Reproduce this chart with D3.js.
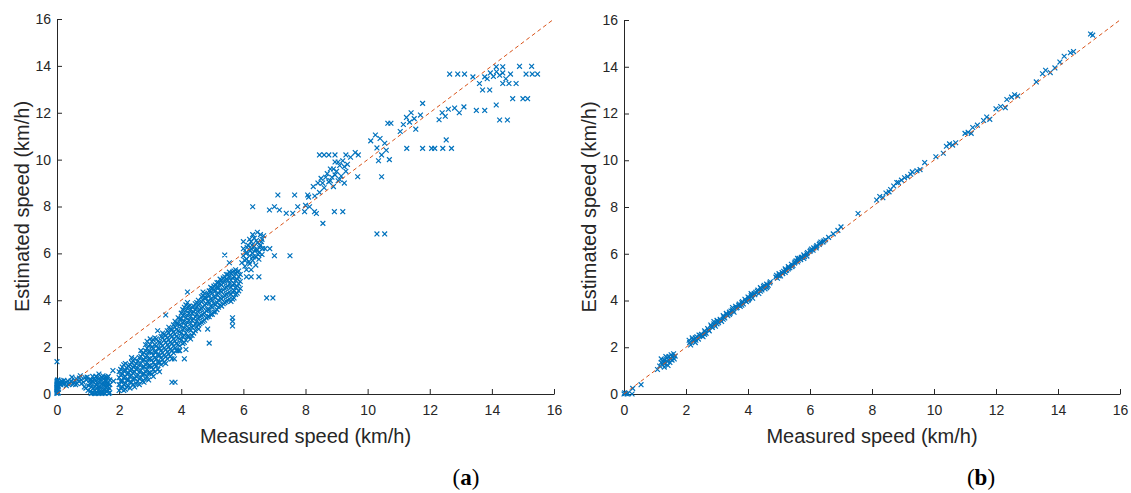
<!DOCTYPE html>
<html>
<head>
<meta charset="utf-8">
<script src="https://cdn.jsdelivr.net/npm/d3@7"></script>
<style>
  body { margin: 0; background: #fff; }
  svg { display: block; }
</style>
</head>
<body>
<script>
// tick values shared by both panels
const axisTicks = [0, 2, 4, 6, 8, 10, 12, 14, 16];
const refLine = [0, 16];

// panel (a): scattered points near origin and the 1-1.7 cluster
const pointsA_low = [
  [0,0.02],[0,0.1],[0,0.18],[0,0.27],[0,0.35],[0,0.45],[0,0.55],[0.03,0.6],[0.05,0.05],[0.05,0.3],
  [0,0.05],[0,0.15],[0,0.22],[0,0.3],[0,0.4],[0,0.5],[0.02,0.58],[0.04,0.2],[0.03,0.45],
  [0.08,0.5],[0,1.38],[0.12,0.4],[0.18,0.5],[0.25,0.45],[0.3,0.35],[0.35,0.55],[0.42,0.45],[0.48,0.72],
  [0.1,0.45],[0.15,0.55],[0.2,0.42],[0.22,0.58],[0.3,0.5],[0.38,0.4],[0.45,0.55],[0.52,0.42],
  [0.58,0.58],[0.65,0.45],[0.72,0.68],[0.78,0.6],[0.85,0.5],[0.9,0.7],
  [0.55,0.5],[0.6,0.4],[0.62,0.65],[0.7,0.55],[0.75,0.78],[0.8,0.45],[0.88,0.3],[0.93,0.25],[0.95,0.6],
  [0.97,0.72],[1.02,0.35],[1.05,0.6],[1.08,0.12],[1.12,0.45],[1.15,0.75],[1.18,0.25],[1.2,0.02],
  [1.24,0.55],[1.27,0.38],[1.3,0.7],[1.32,0.15],[1.35,0.02],[1.38,0.48],[1.4,0.3],[1.42,0.62],
  [1.45,0.08],[1.48,0.78],[1.5,0.2],[1.52,0.42],[1.55,0.02],[1.56,0.58],[1.58,0.3],[1.6,0.12],
  [1.62,0.7],[1.64,0.45],[1.66,0.02],[1.68,0.25],[1.7,0.6],[1.8,1.0],[1.82,0.55],[1.25,0.02],
  [1.45,0.02],[1.35,0.85],[1.1,0.02],[1.5,0.65],[1.28,0.25],[1.62,0.35],
  [1.0,0.15],[1.05,0.45],[1.1,0.3],[1.15,0.55],[1.2,0.15],[1.2,0.65],[1.25,0.4],[1.3,0.05],[1.3,0.5],
  [1.35,0.3],[1.35,0.65],[1.4,0.15],[1.45,0.45],[1.45,0.7],[1.5,0.35],[1.5,0.05],[1.55,0.55],[1.55,0.2],
  [1.6,0.42],[1.6,0.6],[1.65,0.15],[1.65,0.75],[1.7,0.4],[1.7,0.05],[1.4,0.05],[1.15,0.05],[1.1,0.6],
  [1.25,0.75],[1.57,0.72]
];

// panel (a): main band, measured speed -> estimated speeds
const bandA = [
  [2.0,[0.15,0.4,0.7,0.95]], [2.1,[0.3,0.55,0.85,1.15]], [2.2,[0.2,0.45,0.75,1.0,1.3]],
  [2.3,[0.35,0.6,0.9,1.2]], [2.4,[0.5,0.8,1.05,1.35,1.55]], [2.5,[0.3,0.65,0.95,1.2,1.5]],
  [2.6,[0.55,0.8,1.1,1.4]], [2.7,[0.7,1.0,1.3,1.6,1.85]], [2.8,[0.5,0.85,1.15,1.45,1.75]],
  [2.9,[0.75,1.05,1.35,1.65,1.95,2.25]], [3.0,[0.9,1.2,1.5,1.8,2.1,2.35]],
  [3.1,[0.75,1.05,1.35,1.65,1.95,2.3]], [3.2,[1.2,1.5,1.8,2.05,2.35]],
  [3.3,[0.95,1.35,1.65,1.95,2.2]], [3.4,[1.45,1.75,2.05,2.4,2.6]], [3.5,[1.3,1.6,1.9,2.2,2.5]],
  [3.6,[1.7,2.0,2.3,2.6,2.85]], [3.7,[1.5,1.85,2.15,2.45,2.75]], [3.8,[1.95,2.25,2.55,2.85,3.1]],
  [3.9,[1.85,2.1,2.4,2.7,3.0,3.25]], [4.0,[2.3,2.6,2.9,3.2,3.45]], [4.1,[2.2,2.5,2.8,3.1,3.4,3.7]],
  [4.2,[2.45,2.75,3.05,3.35,3.65,3.9]], [4.3,[2.35,2.7,3.0,3.3,3.6]], [4.4,[2.6,2.9,3.2,3.5,3.75]],
  [4.5,[2.85,3.1,3.4,3.7,3.9]], [4.6,[3.0,3.3,3.6,3.85]], [4.7,[3.1,3.4,3.7,4.0,4.2]],
  [4.8,[3.25,3.55,3.85,4.1]], [4.9,[3.3,3.6,3.9,4.2,4.4]], [5.0,[3.4,3.7,4.0,4.3,4.5]],
  [5.1,[3.5,3.8,4.1,4.4,4.65]], [5.2,[3.7,4.0,4.3,4.55,4.75]], [5.3,[3.75,4.05,4.35,4.65,4.85]],
  [5.4,[3.9,4.2,4.5,4.8,5.0]], [5.5,[4.0,4.3,4.6,4.85,5.1]], [5.6,[3.95,4.25,4.55,4.85,5.15]],
  [5.7,[4.1,4.4,4.7,5.0,5.25]], [5.8,[4.3,4.6,4.9,5.2]], [5.9,[4.5,4.8,5.1]]
];

// panel (a): second pass through the band, between the columns above
const bandA2 = [
  [2.05,[0.25,0.55,0.8,1.05]], [2.15,[0.15,0.4,0.7,1.0,1.25]], [2.25,[0.3,0.6,0.85,1.1]],
  [2.35,[0.25,0.5,0.75,1.0,1.25]], [2.45,[0.4,0.65,0.9,1.15,1.4]], [2.55,[0.45,0.75,1.05,1.3]],
  [2.65,[0.4,0.65,0.95,1.25,1.55]], [2.75,[0.55,0.85,1.15,1.45,1.7]], [2.85,[0.65,0.95,1.25,1.55,1.85,2.1]],
  [2.95,[0.6,0.9,1.2,1.5,1.8,2.05]], [3.05,[0.85,1.15,1.45,1.75,2.0,2.25]], [3.15,[0.95,1.25,1.55,1.8,2.1,2.4]],
  [3.25,[1.05,1.35,1.65,1.95,2.25]], [3.35,[1.25,1.55,1.85,2.15,2.45]], [3.45,[1.35,1.65,1.95,2.3,2.55]],
  [3.55,[1.5,1.8,2.1,2.4,2.7]], [3.65,[1.6,1.9,2.2,2.5,2.75]], [3.75,[1.75,2.05,2.35,2.65,2.95]],
  [3.85,[1.85,2.15,2.45,2.75,3.0]], [3.95,[2.05,2.35,2.65,2.95,3.2]], [4.05,[2.15,2.45,2.75,3.05,3.35,3.6]],
  [4.15,[2.3,2.6,2.95,3.25,3.55,3.8]], [4.25,[2.45,2.8,3.15,3.45,3.75]], [4.35,[2.5,2.85,3.15,3.45,3.7]],
  [4.45,[2.7,3.0,3.3,3.6,3.85]], [4.55,[2.95,3.25,3.55,3.8,4.0]], [4.65,[3.05,3.35,3.65,3.95,4.15]],
  [4.75,[3.15,3.45,3.8,4.1,4.3]], [4.85,[3.3,3.6,3.95,4.25]], [4.95,[3.4,3.75,4.05,4.35,4.55]],
  [5.05,[3.5,3.85,4.15,4.45,4.6]], [5.15,[3.6,3.9,4.25,4.55,4.75]], [5.25,[3.8,4.1,4.4,4.7,4.9]],
  [5.35,[3.85,4.15,4.45,4.75,4.95]], [5.45,[3.95,4.25,4.55,4.9,5.1]], [5.55,[4.05,4.35,4.7,5.0,5.2]],
  [5.65,[4.05,4.35,4.65,4.95,5.2]], [5.75,[4.25,4.55,4.85,5.15,5.3]], [5.85,[4.4,4.7,5.0,5.25]]
];

// panel (a): outliers and upper clusters
const pointsA_high = [
  [3.24,2.7],[3.5,3.37],[4.2,4.35],[4.7,4.35],[3.7,0.5],[3.8,0.5],[4.56,2.77],[4.85,2.77],[4.9,2.17],
  [5.65,2.9],[5.65,3.1],[5.65,3.25],[3.78,1.5],[3.95,1.85],[4.15,1.9],[4.1,1.5],
  [5.95,5.6],[6.0,5.9],[6.0,6.2],[6.05,5.45],[6.1,5.75],[6.1,6.05],[6.15,6.35],[6.2,5.55],[6.2,5.9],
  [6.25,6.2],[6.25,6.5],[6.3,5.7],[6.3,6.0],[6.35,6.3],[6.35,6.65],[6.4,5.5],[6.4,5.85],[6.45,6.15],
  [6.45,6.45],[6.5,5.75],[6.5,6.05],[6.55,6.35],[6.55,6.8],[6.6,5.95],[6.6,6.6],[6.7,6.2],[6.85,6.2],
  [6.05,5.7],[6.08,6.0],[6.12,6.25],[6.18,5.65],[6.22,6.1],[6.28,6.35],[6.32,5.85],[6.38,6.15],
  [6.42,6.55],[6.48,5.95],[6.52,6.25],[6.58,6.5],[6.62,6.2],[6.65,6.75],[6.0,6.5],[6.2,6.6],[6.45,6.9],
  [6.3,6.8],
  [6.1,5.3],[6.25,5.3],[6.1,5.0],[6.25,5.0],[6.5,5.0],[5.4,5.93],[5.55,5.6],[7.0,5.9],[7.5,5.9],
  [6.75,4.1],[6.95,4.1],
  [6.3,7.99],[6.84,7.85],[7.0,7.99],[7.16,7.85],[7.11,8.49],[7.38,7.71],[7.59,7.71],[7.65,8.49],
  [7.75,7.99],[7.97,7.78],[8.07,8.49],[8.13,7.99],[8.29,7.78],[8.56,7.28],[8.93,7.78],[9.2,7.78],
  [8.35,7.7],[8.0,8.05],[8.25,8.85],[8.4,9.0],[8.3,8.45],[8.1,8.4],[8.45,8.6],
  [8.5,9.2],[8.6,8.8],[8.7,9.4],[8.75,9.05],[8.85,9.25],[8.9,8.85],[9.0,9.5],[9.05,9.1],[9.15,9.3],
  [9.25,9.0],[9.3,9.5],[8.8,9.6],[9.1,9.75],[9.2,9.95],[9.35,9.8],[8.95,9.9],[9.05,9.9],
  [8.55,9.0],[8.65,9.25],[8.8,9.1],[8.95,9.35],[9.1,9.15],[8.9,9.6],[9.25,9.7],
  [8.45,10.2],[8.6,10.2],[8.75,10.2],[8.95,10.2],[9.3,10.2],[9.45,10.1],[9.6,10.3],[9.7,10.2],
  [9.68,9.27],[10.45,9.27],[10.3,6.83],[10.55,6.83],
  [10.1,10.8],[10.25,11.05],[10.4,10.9],[10.3,10.5],[10.45,10.2],[10.6,10.4],[10.7,10.0],[10.35,9.95],
  [10.65,11.55],[10.75,11.55],[10.55,10.7],
  [11.05,11.2],[11.15,11.5],[11.25,11.8],[11.35,11.6],[11.4,12.0],[11.5,11.75],[11.55,11.3],[11.7,11.9],
  [11.77,12.4],[11.26,10.48],[11.77,10.48],[12.06,10.48],[12.16,10.48],[12.42,10.48],[12.7,10.48],
  [12.53,10.84],[12.3,11.7],[12.4,12.0],[12.5,11.85],[12.6,12.15],[12.8,12.2],[12.95,12.0],[13.1,12.25],
  [13.5,12.1],[13.77,12.1],[14.14,12.33],[14.25,11.69],[14.5,11.69],[14.67,12.6],[15.0,12.6],[15.15,12.6],
  [12.64,13.65],[12.9,13.65],[13.12,13.65],[13.39,13.53],[13.6,13.25],[13.77,13.53],[13.7,12.97],[13.93,12.97],
  [13.85,13.45],[13.95,13.7],[14.05,13.55],[14.15,13.75],[14.25,13.6],[14.35,13.7],[14.45,13.45],[14.6,13.65],
  [14.14,13.96],[14.35,13.96],[14.89,13.98],[15.28,13.98],[15.1,13.65],[15.3,13.65],[15.47,13.65],
  [14.35,13.25],[14.55,13.25],[14.78,13.25]
];

// panel (b): estimates hug the diagonal
const pointsB = [
  [0,0],[0.05,0.02],[0.1,0],[0.02,0.05],[0.12,0.03],[0.26,0],[0.28,0.24],[0.55,0.4],
  [1.08,1.05],[1.15,1.2],[1.2,1.35],[1.25,1.25],[1.3,1.45],[1.32,1.3],[1.38,1.55],[1.4,1.4],[1.45,1.6],
  [1.48,1.35],[1.5,1.5],[1.52,1.68],[1.55,1.45],[1.58,1.58],[1.6,1.72],[1.62,1.5],[1.65,1.62],[1.3,1.15],
  [1.2,1.5],[1.42,1.22],[1.35,1.6],[1.45,1.45],[1.28,1.35],[1.55,1.6],
  [2.1,2.3],[2.15,2.1],[2.2,2.4],[2.25,2.3],[2.3,2.2],[2.35,2.45],[2.4,2.35],[2.45,2.5],[2.5,2.55],
  [2.55,2.45],[2.6,2.7],[2.65,2.6],[2.7,2.8],[2.75,2.7],[2.8,2.95],[2.85,2.85],[2.9,3.0],[2.95,2.9],
  [3.0,3.15],[3.05,3.05],[3.1,3.2],[3.15,3.1],[3.2,3.35],[3.25,3.25],[3.3,3.45],[3.35,3.35],[3.4,3.5],
  [3.45,3.55],[3.5,3.6],[3.55,3.5],[3.6,3.75],[3.65,3.7],[3.7,3.8],[3.75,3.75],[3.8,3.9],[3.85,3.85],
  [3.9,4.05],[3.95,3.95],[4.0,4.15],[4.05,4.1],[4.1,4.2],[4.15,4.1],[4.2,4.3],[4.25,4.35],[4.3,4.4],
  [4.35,4.3],[4.4,4.55],[4.45,4.45],[4.5,4.6],[4.55,4.5],[4.6,4.7],[4.65,4.65],[4.7,4.75],[4.9,5.0],
  [4.95,4.95],[5.0,5.15],[5.05,5.05],[5.1,5.2],[5.15,5.25],[5.2,5.35],[5.25,5.3],[5.3,5.45],[5.35,5.4],
  [5.4,5.55],[5.45,5.5],[5.5,5.6],[5.55,5.7],[5.6,5.65],[5.65,5.8],[5.7,5.75],[5.75,5.85],[5.8,5.95],
  [5.9,6.0],[6.0,6.1],[6.05,6.2],[6.1,6.15],[6.2,6.3],[6.3,6.4],[6.35,6.5],[6.45,6.55],[6.5,6.6],
  [2.3,2.4],[2.6,2.55],[2.9,3.1],[3.2,3.2],[3.5,3.7],[3.8,3.8],[4.1,4.3],[4.4,4.4],[5.0,5.05],[5.3,5.35],
  [5.6,5.8],[5.9,5.9],[6.2,6.25],
  [2.12,2.2],[2.22,2.32],[2.32,2.3],[2.42,2.52],[2.52,2.48],[2.62,2.62],[2.72,2.75],[2.82,2.88],
  [2.92,2.95],[3.02,3.1],[3.12,3.15],[3.22,3.3],[3.32,3.4],[3.42,3.45],[3.52,3.55],[3.62,3.68],
  [3.72,3.85],[3.82,3.95],[3.92,3.98],[4.02,4.05],[4.12,4.25],[4.22,4.25],[4.32,4.45],[4.42,4.5],
  [4.52,4.65],[4.62,4.6],[4.72,4.8],[4.92,5.08],[5.02,5.1],[5.12,5.15],[5.22,5.28],[5.32,5.4],
  [5.42,5.45],[5.52,5.65],[5.62,5.72],[5.72,5.85],[5.82,5.88],[5.92,6.05],[6.02,6.15],[6.12,6.25],
  [6.22,6.35],[6.32,6.45],[6.42,6.5],[3.0,3.0],[3.4,3.4],[4.0,4.0],[4.6,4.55],[5.2,5.2],[5.8,5.8],
  [6.6,6.7],[6.75,6.85],[6.9,7.0],[7.0,7.15],[7.55,7.72],
  [8.15,8.3],[8.25,8.45],[8.35,8.4],[8.45,8.6],[8.55,8.65],[8.6,8.75],[8.7,8.9],[8.8,9.05],[8.85,9.05],
  [8.95,9.15],[9.05,9.25],[9.15,9.3],[9.25,9.4],[9.3,9.5],[9.45,9.55],[9.55,9.6],[9.7,9.9],[10.06,10.15],
  [10.3,10.3],[10.4,10.6],[10.5,10.7],[10.6,10.65],[10.7,10.75],[11.0,11.15],[11.1,11.2],[11.2,11.15],
  [11.25,11.4],[11.4,11.5],[11.6,11.7],[11.7,11.85],[11.8,11.75],[12.0,12.2],[12.15,12.3],[12.3,12.25],
  [12.35,12.6],[12.5,12.7],[12.6,12.8],[12.7,12.75],[13.3,13.35],[13.5,13.7],[13.6,13.85],[13.75,13.75],
  [13.9,13.95],[14.06,14.2],[14.2,14.45],[14.4,14.6],[14.5,14.65],[15.05,15.4],[15.12,15.35]
];

const blue = '#0072BD';
const orange = '#D95319';
const ink = '#262626';

const svg = d3.select('body').append('svg')
  .attr('width', 1131)
  .attr('height', 493);

function flatten(band) {
  const out = [];
  band.forEach(([mx, ys]) => ys.forEach((ey) => out.push([mx, ey])));
  return out;
}

function drawPanel(points, box, tag) {
  const x = d3.scaleLinear().domain([0, 16]).range([box.x0, box.x1]);
  const y = d3.scaleLinear().domain([0, 16]).range([box.y0, box.y1]);
  const g = svg.append('g');

  const xAxis = g.append('g')
    .attr('transform', `translate(0,${box.y0})`)
    .call(d3.axisBottom(x).tickValues(axisTicks).tickSizeInner(-5).tickSizeOuter(0).tickPadding(11));
  const yAxis = g.append('g')
    .attr('transform', `translate(${box.x0},0)`)
    .call(d3.axisLeft(y).tickValues(axisTicks).tickSizeInner(-5).tickSizeOuter(0).tickPadding(6));

  [xAxis, yAxis].forEach((a) => {
    a.selectAll('path, line').attr('stroke', ink);
    a.selectAll('text')
      .attr('fill', ink)
      .style('font', "14px 'Liberation Sans', Arial, sans-serif");
  });

  g.selectAll('path.mark')
    .data(points)
    .join('path')
    .attr('class', 'mark')
    .attr('transform', (d) => `translate(${x(d[0])},${y(d[1])})`)
    .attr('d', 'M-2.4,-2.4L2.4,2.4M-2.4,2.4L2.4,-2.4')
    .attr('stroke', blue)
    .attr('stroke-width', 1.2)
    .attr('fill', 'none');

  g.append('line')
    .attr('x1', x(refLine[0])).attr('y1', y(refLine[0]))
    .attr('x2', x(refLine[1])).attr('y2', y(refLine[1]))
    .attr('stroke', orange)
    .attr('stroke-width', 1)
    .attr('stroke-dasharray', '4,3');

  g.append('text')
    .attr('x', (box.x0 + box.x1) / 2)
    .attr('y', 443)
    .attr('text-anchor', 'middle')
    .attr('fill', ink)
    .style('font', "20px 'Liberation Sans', Arial, sans-serif")
    .text('Measured speed (km/h)');

  g.append('text')
    .attr('transform', `translate(${box.labelX},${(box.y0 + box.y1) / 2}) rotate(-90)`)
    .attr('text-anchor', 'middle')
    .attr('fill', ink)
    .style('font', "20px 'Liberation Sans', Arial, sans-serif")
    .text('Estimated speed (km/h)');

  const cap = g.append('text')
    .attr('x', box.capX)
    .attr('y', 485)
    .attr('text-anchor', 'middle')
    .attr('fill', '#000')
    .style('font', "23px 'Liberation Serif', 'DejaVu Serif', serif");
  cap.append('tspan').text('(');
  cap.append('tspan').style('font-weight', 'bold').text(tag);
  cap.append('tspan').text(')');
}

drawPanel(pointsA_low.concat(flatten(bandA), flatten(bandA2), pointsA_high),
  {x0: 57, x1: 554, y0: 394, y1: 19, labelX: 29, capX: 466}, 'a');
drawPanel(pointsB,
  {x0: 624, x1: 1120, y0: 394, y1: 20, labelX: 596, capX: 981}, 'b');
</script>
</body>
</html>
